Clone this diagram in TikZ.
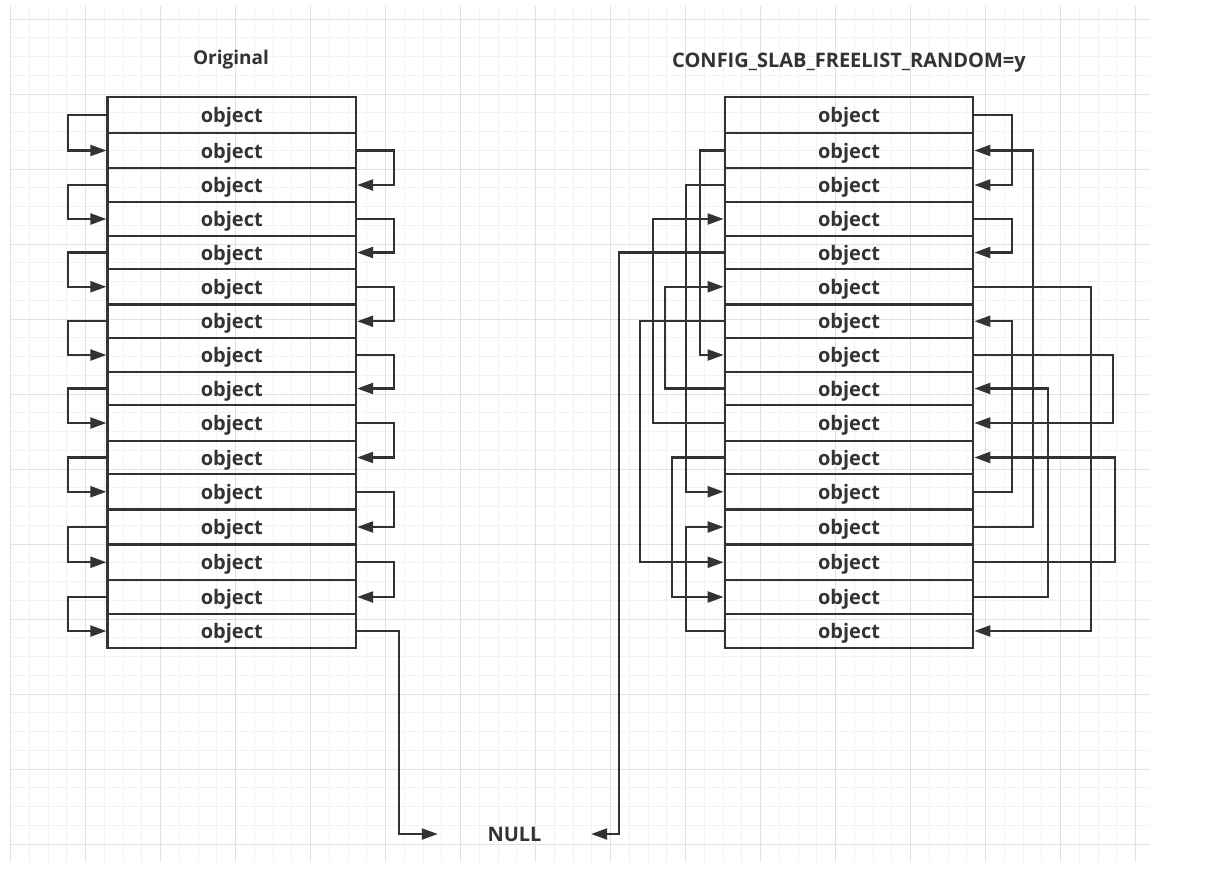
\documentclass[tikz,border=0pt]{standalone}
\usepackage{fontspec}
\setmainfont{Open Sans}
\usetikzlibrary{arrows.meta}
\definecolor{ink}{HTML}{333333}
\definecolor{gridminor}{HTML}{F2F2F2}
\definecolor{gridmajor}{HTML}{E2E2E2}
\begin{document}
\begin{tikzpicture}[x=1pt,y=-1pt,
  objbox/.style={draw=ink, line width=2.2pt, minimum width=248.5pt, inner sep=0pt,
    text=ink, text depth=0pt, font=\bfseries\fontsize{20}{20}\selectfont},
  link/.style={draw=ink, line width=2.2pt, -{Triangle[length=16pt,width=11pt]}},
  titletext/.style={text=ink, inner sep=0pt, text depth=0pt, font=\bfseries\fontsize{19}{19}\selectfont},
  nulltext/.style={text=ink, inner sep=0pt, text depth=0pt, minimum width=153pt, font=\bfseries\fontsize{20}{20}\selectfont},
  minorgrid/.style={draw=gridminor, line width=1pt},
  majorgrid/.style={draw=gridmajor, line width=1pt}]
\useasboundingbox (0,0) rectangle (1206,879);
\fill[white] (0,0) rectangle (1206,879);
% grid
\foreach \k in {0,...,60} {\draw[minorgrid] ({10.7+18.75*\k},6) -- ({10.7+18.75*\k},862);}
\foreach \k in {0,...,44} {\draw[minorgrid] (10.7,{19+18.75*\k}) -- (1150,{19+18.75*\k});}
\foreach \k in {0,...,15} {\draw[majorgrid] ({10.7+75*\k},6) -- ({10.7+75*\k},862);}
\foreach \k in {0,...,11} {\draw[majorgrid] (10.7,{19+75*\k}) -- (1150,{19+75*\k});}
% titles
\node[titletext] (t1) at (231,57) {Original};
\node[titletext, font=\bfseries\fontsize{20}{20}\selectfont] (t2) at (849,60) {CONFIG\_SLAB\_FREELIST\_RANDOM=y};
% boxes
\foreach \t/\b [count=\i] in {97/133,133/168,168/202,202/236,236/269,269/304.5,304.5/338,338/372,372/405,405/441,441/474,474/509.5,509.5/544.5,544.5/580,580/614,614/648} {
  \pgfmathsetmacro\c{(\t+\b)/2}
  \pgfmathsetmacro\h{\b-\t}
  \node[objbox, minimum height=\h pt] (L\i) at (231.75,\c) {object};
  \node[objbox, minimum height=\h pt] (R\i) at (849,\c) {object};
}
\node[nulltext] (null) at (514.5,834) {NULL};
% left panel links
\foreach \a/\b in {1/2,3/4,5/6,7/8,9/10,11/12,13/14,15/16}
  {\draw[link] (L\a.west) -- ++(-38.5,0) |- (L\b.west);}
\foreach \a/\b in {2/3,4/5,6/7,8/9,10/11,12/13,14/15}
  {\draw[link] (L\a.east) -- ++(37,0) |- (L\b.east);}
\draw[link] (L16.east) -- ++(42,0) |- (null.west);
% right panel links, left side
\draw[link] (R2.west) -- ++(-24,0) |- (R8.west);
\draw[link] (R3.west) -- ++(-38,0) |- (R12.west);
\draw[link] (R10.west) -- ++(-71,0) |- (R4.west);
\draw[link] (R9.west) -- ++(-59,0) |- (R6.west);
\draw[link] (R7.west) -- ++(-84,0) |- (R14.west);
\draw[link] (R11.west) -- ++(-52,0) |- (R15.west);
\draw[link] (R16.west) -- ++(-38,0) |- (R13.west);
\draw[link] (R5.west) -- ++(-105,0) |- (null.east);
% right panel links, right side
\draw[link] (R1.east) -- ++(38,0) |- (R3.east);
\draw[link] (R13.east) -- ++(59,0) |- (R2.east);
\draw[link] (R4.east) -- ++(38,0) |- (R5.east);
\draw[link] (R6.east) -- ++(117,0) |- (R16.east);
\draw[link] (R12.east) -- ++(38,0) |- (R7.east);
\draw[link] (R8.east) -- ++(139,0) |- (R10.east);
\draw[link] (R15.east) -- ++(74,0) |- (R9.east);
\draw[link] (R14.east) -- ++(141,0) |- (R11.east);
\end{tikzpicture}
\end{document}
